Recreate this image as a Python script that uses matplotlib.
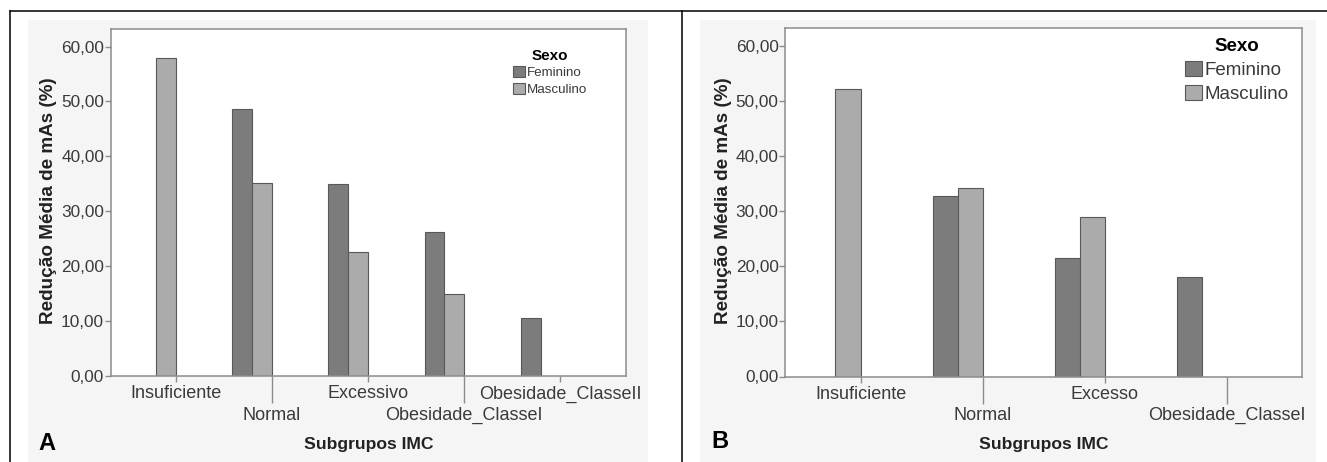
import numpy as np
import matplotlib

matplotlib.use("Agg")
import matplotlib.pyplot as plt
from matplotlib.lines import Line2D
from matplotlib.patches import Rectangle
from matplotlib.ticker import FixedLocator, FuncFormatter

plt.rcParams["font.family"] = ["Liberation Sans", "DejaVu Sans"]

# --- data ------------------------------------------------------------------
CATS_A = ["Insuficiente", "Normal", "Excessivo", "Obesidade_ClasseI", "Obesidade_ClasseII"]
FEM_A = [np.nan, 48.7, 34.9, 26.3, 10.5]
MASC_A = [58.0, 35.1, 22.5, 15.0, np.nan]

CATS_B = ["Insuficiente", "Normal", "Excesso", "Obesidade_ClasseI"]
FEM_B = [np.nan, 32.7, 21.5, 18.1]
MASC_B = [52.1, 34.1, 29.0, np.nan]

SERIES = ["Feminino", "Masculino"]
Y_TICKS = [0, 10, 20, 30, 40, 50, 60]
PANELS = ["A", "B"]

# --- style -------------------------------------------------------------------
W, H = 1327, 462
C_FEM = "#7c7c7c"
C_MASC = "#ababab"
C_EDGE = "#585858"
C_SPINE = "#8c8c8c"
C_BG = "#f5f5f5"
BAR_W = 0.205


def fx(px):
    return px / W


def fy(py):
    return 1 - py / H


def draw_panel(fig, box, cats, fem, masc, xlim, legend_cfg):
    left, top, right, bottom = box
    ax = fig.add_axes([fx(left), fy(bottom), (right - left) / W, (bottom - top) / H])
    ax.set_facecolor("white")
    x = np.arange(len(cats))
    bf = ax.bar(x - BAR_W / 2, fem, BAR_W, color=C_FEM, edgecolor=C_EDGE,
                linewidth=0.8, label=SERIES[0])
    bm = ax.bar(x + BAR_W / 2, masc, BAR_W, color=C_MASC, edgecolor=C_EDGE,
                linewidth=0.8, label=SERIES[1])
    ax.set_xlim(*xlim)
    ax.set_ylim(0, 63.2)
    ax.set_yticks(Y_TICKS)
    ax.yaxis.set_major_formatter(FuncFormatter(lambda v, _: f"{v:.2f}".replace(".", ",")))
    for s in ax.spines.values():
        s.set_color(C_SPINE)
        s.set_linewidth(1.1)
    ax.tick_params(axis="y", length=4, width=1.0, color=C_SPINE, pad=1,
                   labelsize=12.4, labelcolor="#3a3a3a")

    # staggered category labels: even ones short tick, odd ones long tick
    tick_pos = x + BAR_W
    ax.xaxis.set_major_locator(FixedLocator(tick_pos[0::2]))
    ax.set_xticklabels(cats[0::2])
    ax.xaxis.set_minor_locator(FixedLocator(tick_pos[1::2]))
    ax.set_xticklabels(cats[1::2], minor=True)
    ax.tick_params(axis="x", which="major", length=4.3, width=1.0, color=C_SPINE,
                   pad=2.5, labelsize=13, labelcolor="#3a3a3a")
    ax.tick_params(axis="x", which="minor", length=19.5, width=1.0, color=C_SPINE,
                   pad=2.5, labelsize=13, labelcolor="#3a3a3a")

    ax.set_ylabel("Redução Média de mAs (%)", fontsize=13.6, fontweight="bold",
                  color="#222222", va="center")
    ax.yaxis.set_label_coords(fx(legend_cfg["ylab_x"]), fy((top + bottom) / 2 - 1.5),
                              transform=fig.transFigure)
    fig.text(fx((left + right) / 2), fy(445), "Subgrupos IMC", fontsize=12.6,
             fontweight="bold", color="#222222", ha="center", va="center")

    fs = legend_cfg["fs"]
    ax.legend(handles=[bf, bm], title="Sexo", loc="upper left",
              bbox_to_anchor=(fx(legend_cfg["x"]), fy(legend_cfg["y"])),
              bbox_transform=fig.transFigure, frameon=False, fontsize=fs,
              title_fontproperties={"weight": "bold", "size": legend_cfg["tfs"]},
              handlelength=0.9, handleheight=0.9, handletextpad=0.15,
              labelspacing=legend_cfg["ls"], borderpad=0, borderaxespad=0,
              labelcolor="#3a3a3a")
    return ax


fig = plt.figure(figsize=(W / 100, H / 100), dpi=100)

# light grey chart backgrounds
fig.add_artist(Rectangle((fx(28), 0), (648 - 28) / W, fy(20), transform=fig.transFigure,
                         facecolor=C_BG, edgecolor="none", zorder=0))
fig.add_artist(Rectangle((fx(700), 0), (1316 - 700) / W, fy(20), transform=fig.transFigure,
                         facecolor=C_BG, edgecolor="none", zorder=0))

draw_panel(fig, (111, 29, 626, 376), CATS_A, FEM_A, MASC_A, (-0.466, 4.888),
           {"x": 513, "y": 49, "fs": 9.6, "tfs": 11, "ls": 0.25, "ylab_x": 49})
draw_panel(fig, (785.5, 28, 1302, 376.5), CATS_B, FEM_B, MASC_B, (-0.409, 3.817),
           {"x": 1185, "y": 38, "fs": 13.5, "tfs": 13.5, "ls": 0.3, "ylab_x": 723})

# frame lines around the two panels
for xs, ys in [([fx(9.5), 1.0], [fy(10.5), fy(10.5)]),
               ([fx(9.5), fx(9.5)], [fy(10.5), 0.0]),
               ([fx(682), fx(682)], [fy(10.5), 0.0])]:
    fig.add_artist(Line2D(xs, ys, color="black", linewidth=1.1, transform=fig.transFigure))

fig.text(fx(38), fy(443), PANELS[0], fontsize=17, fontweight="bold", ha="left", va="center")
fig.text(fx(711), fy(441), PANELS[1], fontsize=17, fontweight="bold", ha="left", va="center")

fig.savefig("out.png", dpi=100)
